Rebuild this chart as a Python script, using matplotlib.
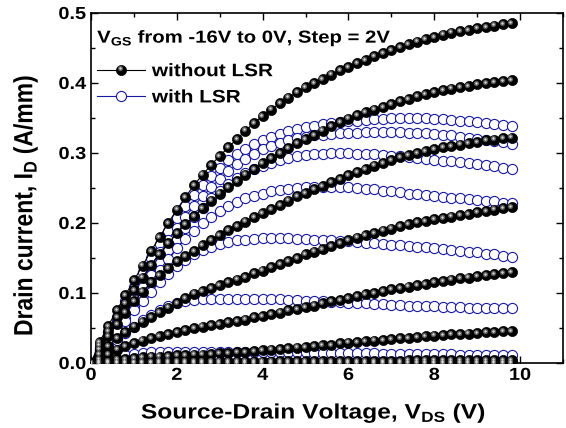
import numpy as np
import matplotlib
matplotlib.use("Agg")
import matplotlib.pyplot as plt
from matplotlib.transforms import ScaledTranslation, Affine2D
from matplotlib.patheffects import AbstractPathEffect

plt.rcParams['font.family'] = ['Liberation Sans', 'DejaVu Sans']
plt.rcParams['font.weight'] = 'bold'
plt.rcParams['mathtext.fontset'] = 'custom'
plt.rcParams['mathtext.rm'] = 'Liberation Sans:bold'
plt.rcParams['mathtext.bf'] = 'Liberation Sans:bold'

vds = np.round(np.arange(50) * 0.2, 1)
vgs_labels = ["0V", "-2V", "-4V", "-6V", "-8V", "-10V", "-12V", "-14V", "-16V"]
series_names = ['without LSR', 'with LSR']

# without LSR, one list per gate voltage (0V down to -16V)
without_0 = [0.000, 0.030, 0.053, 0.075, 0.097, 0.118, 0.139, 0.160, 0.180, 0.200,
             0.219, 0.237, 0.254, 0.269, 0.283, 0.296, 0.308, 0.320, 0.332, 0.343,
             0.353, 0.362, 0.371, 0.379, 0.387, 0.394, 0.400, 0.406, 0.412, 0.418,
             0.423, 0.428, 0.433, 0.438, 0.443, 0.447, 0.451, 0.455, 0.459, 0.463,
             0.466, 0.469, 0.472, 0.474, 0.476, 0.478, 0.480, 0.482, 0.484, 0.486]
without_2 = [0.000, 0.025, 0.045, 0.065, 0.085, 0.104, 0.122, 0.140, 0.156, 0.171,
             0.185, 0.198, 0.210, 0.221, 0.232, 0.242, 0.251, 0.260, 0.269, 0.277,
             0.285, 0.293, 0.300, 0.307, 0.314, 0.320, 0.326, 0.332, 0.338, 0.344,
             0.349, 0.354, 0.358, 0.362, 0.366, 0.370, 0.374, 0.377, 0.381, 0.384,
             0.387, 0.390, 0.392, 0.394, 0.396, 0.398, 0.400, 0.401, 0.403, 0.404]
without_4 = [0.000, 0.020, 0.038, 0.055, 0.072, 0.088, 0.102, 0.115, 0.126, 0.136,
             0.145, 0.153, 0.160, 0.168, 0.176, 0.183, 0.190, 0.196, 0.202, 0.208,
             0.214, 0.220, 0.226, 0.232, 0.238, 0.243, 0.248, 0.253, 0.258, 0.263,
             0.268, 0.273, 0.277, 0.282, 0.286, 0.290, 0.294, 0.297, 0.300, 0.303,
             0.306, 0.308, 0.310, 0.312, 0.314, 0.316, 0.318, 0.319, 0.321, 0.322]
without_6 = [0.000, 0.012, 0.024, 0.035, 0.044, 0.052, 0.059, 0.066, 0.073, 0.079,
             0.086, 0.093, 0.099, 0.103, 0.107, 0.111, 0.115, 0.119, 0.123, 0.128,
             0.132, 0.137, 0.141, 0.146, 0.150, 0.155, 0.159, 0.163, 0.167, 0.171,
             0.175, 0.179, 0.183, 0.186, 0.189, 0.192, 0.195, 0.198, 0.201, 0.203,
             0.205, 0.207, 0.209, 0.211, 0.213, 0.215, 0.217, 0.219, 0.221, 0.223]
without_8 = [0.000, 0.006, 0.013, 0.019, 0.024, 0.028, 0.032, 0.035, 0.038, 0.041,
             0.044, 0.047, 0.050, 0.052, 0.054, 0.056, 0.058, 0.060, 0.062, 0.065,
             0.067, 0.070, 0.072, 0.075, 0.077, 0.080, 0.082, 0.085, 0.088, 0.090,
             0.093, 0.096, 0.098, 0.100, 0.103, 0.105, 0.107, 0.109, 0.111, 0.113,
             0.115, 0.117, 0.119, 0.121, 0.122, 0.124, 0.125, 0.127, 0.128, 0.130]
without_10 = [0.000, 0.002, 0.003, 0.005, 0.006, 0.007, 0.008, 0.009, 0.009, 0.010,
              0.011, 0.011, 0.012, 0.012, 0.013, 0.014, 0.014, 0.015, 0.016, 0.017,
              0.018, 0.019, 0.020, 0.021, 0.022, 0.023, 0.024, 0.025, 0.026, 0.028,
              0.029, 0.030, 0.031, 0.032, 0.033, 0.034, 0.035, 0.036, 0.037, 0.038,
              0.039, 0.040, 0.041, 0.041, 0.042, 0.043, 0.044, 0.044, 0.045, 0.046]
without_12 = [0.000, 0.000, 0.001, 0.001, 0.001, 0.001, 0.001, 0.001, 0.002, 0.002,
              0.002, 0.002, 0.002, 0.002, 0.002, 0.002, 0.002, 0.002, 0.002, 0.002,
              0.002, 0.002, 0.003, 0.003, 0.003, 0.003, 0.003, 0.003, 0.003, 0.003,
              0.003, 0.003, 0.003, 0.003, 0.003, 0.003, 0.003, 0.004, 0.004, 0.004,
              0.004, 0.004, 0.004, 0.004, 0.004, 0.004, 0.004, 0.004, 0.004, 0.004]
without_14 = [0.000] + [0.001] * 49
without_16 = [0.000] * 50

# with LSR
with_0 = [0.000, 0.022, 0.044, 0.066, 0.088, 0.109, 0.130, 0.150, 0.170, 0.189,
          0.207, 0.224, 0.240, 0.254, 0.267, 0.279, 0.290, 0.299, 0.306, 0.313,
          0.318, 0.323, 0.327, 0.331, 0.334, 0.337, 0.339, 0.341, 0.343, 0.344,
          0.345, 0.346, 0.347, 0.348, 0.349, 0.350, 0.350, 0.350, 0.350, 0.350,
          0.349, 0.348, 0.347, 0.346, 0.345, 0.344, 0.343, 0.341, 0.340, 0.338]
with_2 = [0.000, 0.020, 0.040, 0.060, 0.080, 0.100, 0.120, 0.139, 0.158, 0.176,
          0.193, 0.209, 0.224, 0.238, 0.251, 0.263, 0.274, 0.284, 0.292, 0.299,
          0.305, 0.310, 0.314, 0.318, 0.321, 0.323, 0.325, 0.326, 0.327, 0.328,
          0.329, 0.329, 0.330, 0.330, 0.330, 0.330, 0.330, 0.329, 0.329, 0.328,
          0.327, 0.326, 0.325, 0.323, 0.322, 0.320, 0.319, 0.317, 0.315, 0.313]
with_4 = [0.000, 0.019, 0.037, 0.055, 0.073, 0.091, 0.109, 0.126, 0.143, 0.160,
          0.177, 0.193, 0.208, 0.222, 0.235, 0.246, 0.256, 0.264, 0.271, 0.277,
          0.282, 0.286, 0.290, 0.293, 0.295, 0.297, 0.298, 0.299, 0.300, 0.300,
          0.300, 0.299, 0.299, 0.298, 0.297, 0.296, 0.295, 0.294, 0.293, 0.292,
          0.290, 0.289, 0.288, 0.287, 0.286, 0.284, 0.283, 0.281, 0.279, 0.277]
with_6 = [0.000, 0.016, 0.032, 0.048, 0.064, 0.080, 0.097, 0.116, 0.133, 0.149,
          0.164, 0.177, 0.189, 0.200, 0.209, 0.217, 0.224, 0.230, 0.235, 0.239,
          0.242, 0.245, 0.247, 0.249, 0.250, 0.251, 0.252, 0.252, 0.252, 0.252,
          0.251, 0.250, 0.249, 0.248, 0.246, 0.245, 0.244, 0.242, 0.241, 0.240,
          0.238, 0.237, 0.236, 0.235, 0.234, 0.233, 0.232, 0.231, 0.229, 0.228]
with_8 = [0.000, 0.015, 0.030, 0.045, 0.060, 0.075, 0.089, 0.102, 0.115, 0.127,
          0.138, 0.147, 0.155, 0.161, 0.166, 0.170, 0.173, 0.175, 0.176, 0.177,
          0.178, 0.178, 0.178, 0.178, 0.177, 0.177, 0.176, 0.176, 0.175, 0.174,
          0.174, 0.173, 0.172, 0.171, 0.170, 0.169, 0.168, 0.167, 0.166, 0.165,
          0.164, 0.163, 0.162, 0.160, 0.159, 0.158, 0.156, 0.155, 0.153, 0.152]
with_10 = [0.000, 0.011, 0.022, 0.033, 0.043, 0.052, 0.061, 0.069, 0.076, 0.081,
           0.085, 0.088, 0.090, 0.091, 0.092, 0.092, 0.092, 0.092, 0.092, 0.092,
           0.092, 0.091, 0.091, 0.090, 0.090, 0.089, 0.089, 0.088, 0.087, 0.087,
           0.086, 0.085, 0.085, 0.084, 0.084, 0.083, 0.083, 0.082, 0.082, 0.081,
           0.081, 0.080, 0.080, 0.080, 0.079, 0.079, 0.079, 0.078, 0.078, 0.078]
with_12 = [0.000, 0.004, 0.007, 0.010, 0.012, 0.013, 0.014, 0.015, 0.016, 0.016,
           0.016, 0.016, 0.016, 0.016, 0.016, 0.016, 0.016, 0.016, 0.015, 0.015,
           0.015, 0.015, 0.015, 0.015, 0.015, 0.015, 0.014, 0.014, 0.014, 0.014,
           0.014, 0.014, 0.014, 0.014, 0.013, 0.013, 0.013, 0.013, 0.013, 0.013,
           0.013, 0.013, 0.013, 0.012, 0.012, 0.012, 0.012, 0.012, 0.012, 0.012]
with_14 = [0.000] + [0.002] * 49
with_16 = [0.000] + [0.001] * 49

without_lsr = [without_0, without_2, without_4, without_6, without_8,
               without_10, without_12, without_14, without_16]
with_lsr = [with_0, with_2, with_4, with_6, with_8,
            with_10, with_12, with_14, with_16]

blue = '#1a1aa0'


class Stretch(AbstractPathEffect):
    # the reference text looks squashed wider than normal, so widen the glyphs
    def __init__(self, sx=1.0, sy=1.0, anchor='center'):
        super().__init__()
        self.sx, self.sy, self.anchor = sx, sy, anchor

    def draw_path(self, renderer, gc, tpath, affine, rgbFace=None):
        ext = tpath.get_extents()
        if self.anchor == 'left':
            cx = ext.x0
        elif self.anchor == 'right':
            cx = ext.x1
        else:
            cx = 0.5 * (ext.x0 + ext.x1)
        cy = 0.5 * (ext.y0 + ext.y1)
        t = Affine2D().translate(-cx, -cy).scale(self.sx, self.sy).translate(cx, cy)
        renderer.draw_path(gc, tpath, t + affine, rgbFace)


fig = plt.figure(figsize=(5.66, 4.28), dpi=100)
ax = fig.add_axes([0.1608, 0.1519, 0.8339, 0.8178])

shift = ScaledTranslation(-0.9 / 72, 0.9 / 72, fig.dpi_scale_trans)
ms = 7.3


def black_ball(x, y, trans, z=3):
    ax.plot(x, y, 'o', ms=ms, mfc='black', mec='black', mew=0.5, zorder=z, transform=trans)
    ax.plot(x, y, 'o', ms=3.8, mfc='#5a5a5a', mec='none', zorder=z + 0.1, transform=trans + shift)
    ax.plot(x, y, 'o', ms=1.7, mfc='#d8d8d8', mec='none', zorder=z + 0.2, transform=trans + shift)


for i in range(len(with_lsr)):
    ax.plot(vds, with_lsr[i], '-', color=blue, lw=0.8, marker='o', ms=ms,
            mfc='white', mec=blue, mew=0.8, zorder=2)

for i in range(len(without_lsr)):
    ax.plot(vds, without_lsr[i], '-', color='black', lw=0.8, zorder=3)
    black_ball(vds, without_lsr[i], ax.transData)

# legend keys drawn by hand so that the text can be widened like the reference
key_x = [0.0127, 0.1144]
key_y = [0.838, 0.763]
ax.plot(key_x, [key_y[0]] * 2, '-', color='black', lw=0.8, transform=ax.transAxes, zorder=6)
black_ball([sum(key_x) / 2], [key_y[0]], ax.transAxes, z=6)
ax.plot(key_x, [key_y[1]] * 2, '-', color=blue, lw=0.8, transform=ax.transAxes, zorder=6)
ax.plot([sum(key_x) / 2], [key_y[1]], 'o', ms=ms, mfc='white', mec=blue, mew=0.8,
        transform=ax.transAxes, zorder=7)
for k in range(2):
    t = ax.text(0.129, key_y[k], series_names[k], transform=ax.transAxes, fontsize=13,
                fontweight='bold', ha='left', va='center_baseline')
    t.set_path_effects([Stretch(sx=1.15, anchor='left')])

ttl = ax.text(0.013, 0.955, 'V$_\\mathregular{GS}$ from -16V to 0V, Step = 2V', transform=ax.transAxes,
              fontsize=12.5, fontweight='bold', va='top', ha='left')
ttl.set_path_effects([Stretch(sx=1.17, anchor='left')])

ax.set_xlim(0, 11)
ax.set_ylim(0, 0.5)
ax.set_xticks([0, 2, 4, 6, 8, 10])
ax.set_xticks([1, 3, 5, 7, 9, 11], minor=True)
ax.set_yticks([0.0, 0.1, 0.2, 0.3, 0.4, 0.5])
ax.set_yticks([0.05, 0.15, 0.25, 0.35, 0.45], minor=True)
ax.set_yticklabels(['0.0', '0.1', '0.2', '0.3', '0.4', '0.5'])
ax.tick_params(which='both', direction='in', top=True, right=True, labelsize=12.5, width=1.0)
ax.tick_params(which='major', length=5)
ax.tick_params(which='minor', length=3)
for s in ax.spines.values():
    s.set_linewidth(1.2)
for tk in ax.xaxis.get_major_ticks():
    tk.label1.set_path_effects([Stretch(sx=1.15, anchor='center')])
for tk in ax.yaxis.get_major_ticks():
    tk.label1.set_path_effects([Stretch(sx=1.15, anchor='right')])

xl = fig.text(141 / 566, 0.022, 'Source-Drain Voltage, V$_\\mathregular{DS}$ (V)', fontsize=15,
              fontweight='bold', ha='left', va='baseline')
xl.set_path_effects([Stretch(sx=1.18, anchor='left')])
yl = fig.text(25 / 566, 0.52, 'Drain current, I$_\\mathregular{D}$ (A/mm)', fontsize=16.5,
              fontweight='bold', ha='center', va='center', rotation=90)
yl.set_path_effects([Stretch(sy=1.15)])

fig.savefig('out.png', dpi=100)
